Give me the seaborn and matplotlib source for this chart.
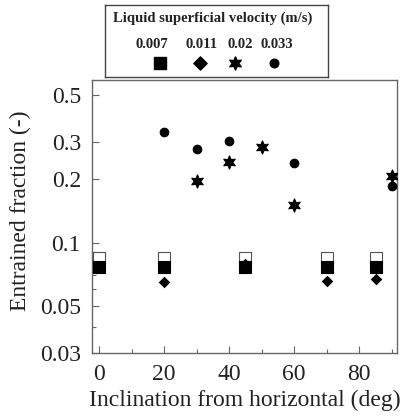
import matplotlib
matplotlib.use("Agg")
import matplotlib.pyplot as plt
import matplotlib.ticker as mticker
import seaborn as sns
import pandas as pd

sns.set_style("ticks")
plt.rcParams["font.family"] = ["Liberation Serif", "DejaVu Serif"]

# Entrained fraction vs. inclination, one series per liquid superficial velocity
velocity_labels = ["0.007", "0.011", "0.02", "0.033"]

x_007 = [0, 20, 45, 70, 85]
y_007 = [0.077, 0.077, 0.077, 0.077, 0.077]

x_007_open = [0, 20, 45, 70, 85]
y_007_open = [0.085, 0.085, 0.085, 0.085, 0.085]

x_011 = [20, 45, 70, 85]
y_011 = [0.065, 0.079, 0.066, 0.067]

x_02 = [30, 40, 50, 60, 90]
y_02 = [0.196, 0.241, 0.284, 0.151, 0.207]

x_033 = [20, 30, 40, 60, 90]
y_033 = [0.334, 0.278, 0.303, 0.238, 0.186]

star6 = (6, 1, 0)
series = [
    (x_007_open, y_007_open, "s", 80, "white", "#555555"),
    (x_011, y_011, "D", 45, "black", "white"),
    (x_007, y_007, "s", 85, "black", "black"),
    (x_02, y_02, star6, 90, "black", "black"),
    (x_033, y_033, "o", 38, "black", "black"),
]

fig = plt.figure(figsize=(4.05, 4.18), dpi=100)
ax = fig.add_axes([92 / 405, 1 - 353 / 418, 305 / 405, 273 / 418])

for xs, ys, mk, size, fc, ec in series:
    df = pd.DataFrame({"x": xs, "y": ys})
    sns.scatterplot(data=df, x="x", y="y", marker=mk, s=size, color=fc,
                    edgecolor=ec, linewidth=0.8, ax=ax, legend=False, zorder=3)

ax.set_yscale("log")
ax.set_xlim(-2.2, 91.6)
ax.set_ylim(0.03, 0.59)
ax.set_xticks([0, 20, 40, 60, 80])
ax.set_xticks([10, 30, 50, 70, 90], minor=True)
ax.set_yticks([0.03, 0.05, 0.1, 0.2, 0.3, 0.5])
ax.yaxis.set_major_formatter(mticker.FuncFormatter(lambda v, p: f"{v:g}"))
ax.set_yticks([0.04, 0.06, 0.07, 0.08, 0.09], minor=True)
ax.yaxis.set_minor_formatter(mticker.NullFormatter())

for s in ax.spines.values():
    s.set_visible(True)
    s.set_color("#666666")
    s.set_linewidth(1.0)
ax.tick_params(which="both", direction="in", colors="#666666", labelcolor="#222222",
               labelsize=17, top=False, right=False)
ax.tick_params(axis="x", which="major", pad=8)
ax.tick_params(axis="y", which="major", pad=8)
ax.tick_params(which="major", length=5, width=0.8)
ax.tick_params(which="minor", length=3, width=0.8)

ax.set_xlabel("Inclination from horizontal (deg)", fontsize=17, color="#222222")
ax.xaxis.set_label_coords(0.5, -0.135)
ax.set_ylabel("Entrained fraction (-)", fontsize=17, color="#222222")
ax.yaxis.set_label_coords(-0.2, 0.52)

# Legend panel above the plot
lax = fig.add_axes([105 / 405, 1 - 77 / 418, 223 / 405, 72 / 418])
lax.set_xlim(0, 223)
lax.set_ylim(72, 0)
lax.set_xticks([])
lax.set_yticks([])
for s in lax.spines.values():
    s.set_color("#444444")
    s.set_linewidth(1.0)
lax.text(108, 13, "Liquid superficial velocity (m/s)", ha="center", va="center",
         fontsize=10.5, fontweight="bold", color="#222222")
label_x = [47, 97, 135, 172]
marker_x = [55, 95, 130, 169]
legend_markers = [("s", 85), ("D", 45), (star6, 90), ("o", 38)]
for lab, lx, mx, (mk, size) in zip(velocity_labels, label_x, marker_x, legend_markers):
    lax.text(lx, 40, lab, ha="center", va="center", fontsize=10.5,
             fontweight="bold", color="#222222")
    lax.scatter([mx], [58], marker=mk, s=size, color="black", clip_on=False)

fig.savefig("out.png", dpi=100)
